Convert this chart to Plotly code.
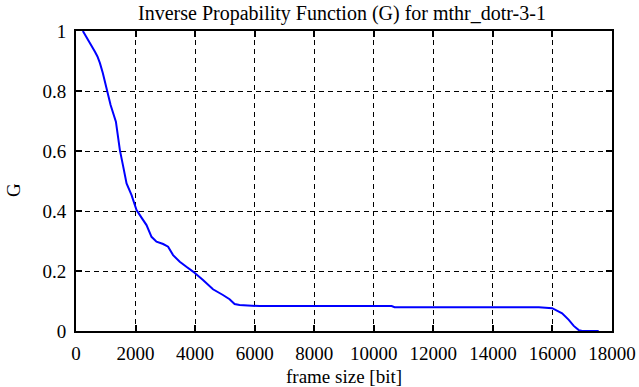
import plotly.graph_objects as go

frame_size = [230, 450, 637, 720, 804, 900, 1028, 1162, 1340, 1474, 1586, 1698, 1866, 2033,
              2200, 2368, 2536, 2703, 2926, 3093, 3260, 3484, 3707, 3930, 4265, 4600,
              4935, 5158, 5326, 5493, 6163, 8000, 10600, 10700, 13000, 15544, 15990,
              16325, 16548, 16715, 16883, 17000, 17553]
G = [1.0, 0.965, 0.931, 0.915, 0.893, 0.86, 0.803, 0.753, 0.698, 0.603, 0.548, 0.492,
     0.453, 0.403, 0.378, 0.353, 0.314, 0.298, 0.290, 0.281, 0.253, 0.231, 0.214, 0.198,
     0.170, 0.139, 0.120, 0.106, 0.090, 0.087, 0.083, 0.083, 0.083, 0.079, 0.079, 0.079,
     0.076, 0.059, 0.037, 0.017, 0.003, 0.0, 0.0]

x_ticks = [0, 2000, 4000, 6000, 8000, 10000, 12000, 14000, 16000, 18000]
y_ticks = [0, 0.2, 0.4, 0.6, 0.8, 1]
y_labels = ["0", "0.2", "0.4", "0.6", "0.8", "1"]

FONT = "serif"
TICK = dict(family=FONT, size=19, color="black")
TTL = dict(family=FONT, size=20, color="black")

fig = go.Figure()
fig.add_trace(go.Scatter(x=frame_size, y=G, mode="lines",
                         line=dict(color="#0000ff", width=2), showlegend=False))

axis_common = dict(showline=True, linecolor="black", linewidth=2, mirror="allticks",
                   ticks="inside", ticklen=6, tickwidth=2, tickcolor="black",
                   showgrid=True, gridcolor="black", griddash="5px,4px", gridwidth=1,
                   zeroline=False, automargin=False, tickfont=TICK)

fig.update_layout(
    width=639, height=387,
    margin=dict(l=76, r=27, t=31, b=56),
    paper_bgcolor="white", plot_bgcolor="white",
    font=dict(family=FONT, color="black"),
    title=dict(text="Inverse Propability Function (G) for mthr_dotr-3-1",
               x=342 / 639, xanchor="center", y=1 - 13 / 387, yanchor="middle",
               font=TTL),
    xaxis=dict(range=[0, 18000], tickvals=x_ticks, ticktext=[str(v) for v in x_ticks],
               ticklabelstandoff=4, **axis_common),
    yaxis=dict(range=[0, 1], tickvals=y_ticks, ticktext=y_labels,
               ticklabelstandoff=4, **axis_common),
    annotations=[
        dict(text="frame size [bit]", xref="paper", yref="paper",
             x=(344 - 76) / 536, y=-(376 - 331) / 300, xanchor="center", yanchor="middle",
             showarrow=False, font=TICK),
        dict(text="G", xref="paper", yref="paper", textangle=-90,
             x=(13 - 76) / 536, y=(331 - 190) / 300, xanchor="center", yanchor="middle",
             showarrow=False, font=TICK),
    ],
)

fig.write_html("out.html", config={"displayModeBar": False},
               post_script="document.body.style.margin='0';")
